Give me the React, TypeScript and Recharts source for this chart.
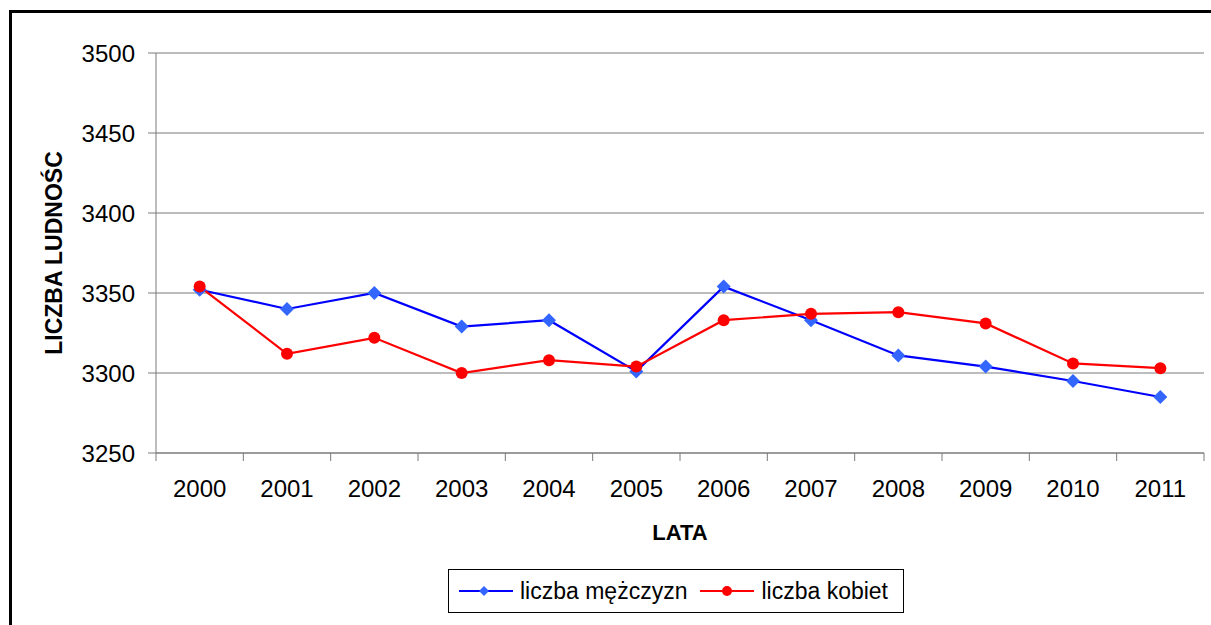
import React from "react";
import { LineChart, Line, XAxis, YAxis, CartesianGrid, Legend } from "recharts";

const years = ["2000", "2001", "2002", "2003", "2004", "2005", "2006", "2007", "2008", "2009", "2010", "2011"];
const men = [3352, 3340, 3350, 3329, 3333, 3301, 3354, 3333, 3311, 3304, 3295, 3285];
const women = [3354, 3312, 3322, 3300, 3308, 3304, 3333, 3337, 3338, 3331, 3306, 3303];
const yTicks = [3250, 3300, 3350, 3400, 3450, 3500];
const menName = "liczba mężczyzn";
const womenName = "liczba kobiet";
const yTitle = "LICZBA LUDNOŚC";
const xTitle = "LATA";

const data = years.map((y, i) => ({ year: y, idx: i, men: men[i], women: women[i] }));
const boundaryTicks = [...years.map((_, i) => i), years.length];
const marksDomain: [number, number] = [0, years.length];
const yDomain: [number, number] = [yTicks[0], yTicks[yTicks.length - 1]];

const FONT = "'Liberation Sans', Arial, sans-serif";
const GRAY = "#7a7a7a";
const BLUE_LINE = "#0000ff";
const BLUE_MARK = "#3366ff";
const RED = "#ff0000";

const axisLineStyle = { stroke: GRAY, strokeWidth: 1 };
const tickTextStyle = { fill: "#000", fontSize: 24, fontFamily: FONT };
const emptyTick = () => <g />;

const Diamond = (props: any) => {
  const { cx, cy } = props;
  if (cx == null || cy == null) return <g />;
  const r = 7;
  return <path d={`M${cx},${cy - r}L${cx + r},${cy}L${cx},${cy + r}L${cx - r},${cy}Z`} fill={BLUE_MARK} stroke="none" />;
};

const Circle = (props: any) => {
  const { cx, cy } = props;
  if (cx == null || cy == null) return <g />;
  return <circle cx={cx} cy={cy} r={6} fill={RED} stroke="none" />;
};

const LegendIcon = ({ kind }: { kind: string }) => (
  <svg width={56} height={16} style={{ display: "block" }}>
    <line x1={0} y1={8} x2={54} y2={8} stroke={kind === "men" ? BLUE_LINE : RED} strokeWidth={2} />
    {kind === "men" ? (
      <path d="M25,3L30,8L25,13L20,8Z" fill={BLUE_MARK} />
    ) : (
      <circle cx={27} cy={8} r={5} fill={RED} />
    )}
  </svg>
);

const series = [
  { key: "men", name: menName },
  { key: "women", name: womenName },
];

const renderLegend = () => {
  return (
    <div
      style={{
        width: 456,
        height: 44,
        boxSizing: "border-box",
        border: "1px solid #000",
        display: "flex",
        alignItems: "center",
        paddingLeft: 10,
        fontFamily: FONT,
        fontSize: 23,
        color: "#000",
        background: "#fff",
      }}
    >
      {series.map((s, i) => (
        <div key={s.key} style={{ display: "flex", alignItems: "center", marginRight: i === 0 ? 13 : 0 }}>
          <LegendIcon kind={s.key} />
          <span style={{ marginLeft: 5, whiteSpace: "nowrap" }}>{s.name}</span>
        </div>
      ))}
    </div>
  );
};

const YTitle = (props: any) => {
  const vb = props.viewBox || {};
  const x = vb.x - 2;
  const y = vb.y + vb.height / 2;
  return (
    <text
      x={x}
      y={y}
      transform={`rotate(-90, ${x}, ${y})`}
      textAnchor="middle"
      dominantBaseline="central"
      fontFamily={FONT}
      fontWeight="bold"
      fontSize={23}
      fill="#000"
    >
      {yTitle}
    </text>
  );
};

const XTitle = (props: any) => {
  const vb = props.viewBox || {};
  const x = vb.x + vb.width / 2;
  const y = vb.y + 78;
  return (
    <text x={x} y={y} textAnchor="middle" dominantBaseline="central" fontFamily={FONT} fontWeight="bold" fontSize={22} fill="#000">
      {xTitle}
    </text>
  );
};

const xLabel = { content: XTitle };
const yLabel = { content: YTitle };
const chartMargin = { top: 53, right: 7, bottom: 71, left: 56 };
const legendWrapper = { left: 448, top: 569, width: 456, height: 44 };

export default function App() {
  return (
    <div style={{ position: "fixed", left: 0, top: 0, width: 1211, height: 625, overflow: "hidden", background: "#fff" }}>
      <div
        style={{
          position: "absolute",
          left: 9,
          top: 10,
          width: 1300,
          height: 700,
          border: "3px solid #000",
          boxSizing: "border-box",
        }}
      />
      <div style={{ position: "absolute", left: 0, top: 0 }}>
        <LineChart width={1211} height={625} data={data} margin={chartMargin}>
          <CartesianGrid xAxisId="b_cat" vertical={false} stroke={GRAY} strokeWidth={1} />
          <XAxis
            xAxisId="a_marks"
            type="number"
            dataKey="idx"
            domain={marksDomain}
            ticks={boundaryTicks}
            height={1}
            tick={emptyTick}
            tickSize={8}
            axisLine={axisLineStyle}
            tickLine={axisLineStyle}
            allowDataOverflow
          />
          <XAxis
            xAxisId="b_cat"
            dataKey="year"
            scale="band"
            height={100}
            interval={0}
            axisLine={false}
            tickLine={false}
            tickSize={8}
            tickMargin={18}
            tick={tickTextStyle}
            label={xLabel}
          />
          <YAxis
            domain={yDomain}
            ticks={yTicks}
            width={100}
            tickSize={8}
            tickMargin={13}
            axisLine={axisLineStyle}
            tickLine={axisLineStyle}
            tick={tickTextStyle}
            label={yLabel}
            allowDataOverflow
          />
          <Legend
            layout="horizontal"
            verticalAlign="middle"
            align="center"
            content={renderLegend}
            wrapperStyle={legendWrapper}
          />
          <Line
            xAxisId="b_cat"
            dataKey="men"
            name={menName}
            stroke={BLUE_LINE}
            strokeWidth={2.2}
            dot={<Diamond />}
            activeDot={false}
            isAnimationActive={false}
          />
          <Line
            xAxisId="b_cat"
            dataKey="women"
            name={womenName}
            stroke={RED}
            strokeWidth={2.2}
            dot={<Circle />}
            activeDot={false}
            isAnimationActive={false}
          />
        </LineChart>
      </div>
    </div>
  );
}
